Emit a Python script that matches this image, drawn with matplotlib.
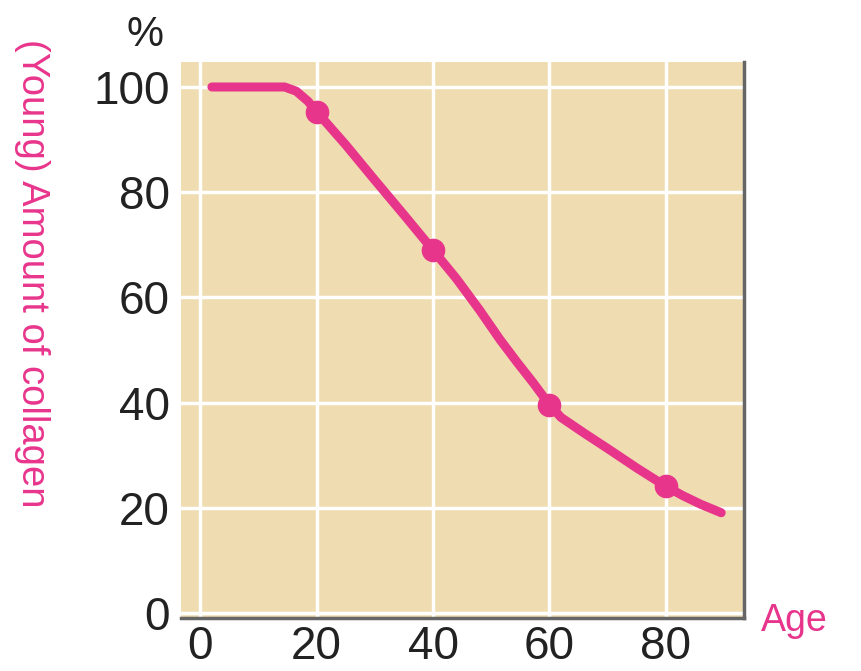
import matplotlib
matplotlib.use("Agg")
import matplotlib.pyplot as plt

plt.rcParams['font.family'] = ['Liberation Sans', 'DejaVu Sans']

# Collagen curve (age vs. percent of young-adult level)
age = [2, 14.5, 16.5, 18.5, 20, 25, 30, 35, 40, 44, 48, 51.5, 54.5, 57.2, 60,
       62, 66, 70, 75, 80, 83, 86, 89.5]
collagen = [100, 100, 99.2, 97.3, 95.3, 89, 82.3, 75.7, 69, 63.6, 57.6, 52,
            47.6, 43.8, 39.6, 37.2, 34.2, 31.3, 27.6, 24.1, 22.3, 20.7, 19.1]

# Highlighted sample points
marker_age = [20, 40, 60, 80]
marker_val = [95.3, 69, 39.6, 24.1]

x_ticks = [0, 20, 40, 60, 80]
y_ticks = [0, 20, 40, 60, 80, 100]

pink = '#e8358c'
tan = '#efdcb0'

fig = plt.figure(figsize=(8.62, 6.71), dpi=100)
ax = fig.add_axes([0.21, 0.079, 0.653, 0.829])
ax.set_facecolor(tan)

ax.plot(age, collagen, color=pink, lw=6.5, solid_capstyle='round',
        solid_joinstyle='round', zorder=3)
ax.plot(marker_age, marker_val, 'o', color=pink, ms=16, zorder=4)

ax.set_xlim(-3.3, 93.4)
ax.set_ylim(-0.9, 104.8)
ax.set_xticks(x_ticks)
ax.set_yticks(y_ticks)
ax.tick_params(length=0, labelsize=33, colors='#222222')
ax.tick_params(axis='x', pad=5)
ax.tick_params(axis='y', pad=8)
ax.grid(True, color='white', lw=2.5)
ax.set_axisbelow(True)

for side in ['left', 'top']:
    ax.spines[side].set_visible(False)
for side in ['right', 'bottom']:
    ax.spines[side].set_color('#666666')
    ax.spines[side].set_linewidth(2.5)

fig.text(0.168, 0.948, '%', fontsize=30, ha='center', va='center', color='#222222')
fig.text(0.922, 0.075, 'Age', fontsize=27, ha='center', va='center', color=pink)
fig.text(0.037, 0.593, '(Young) Amount of collagen', fontsize=27.5, rotation=270,
         ha='center', va='center', color=pink)

fig.savefig('out.png', dpi=100)
